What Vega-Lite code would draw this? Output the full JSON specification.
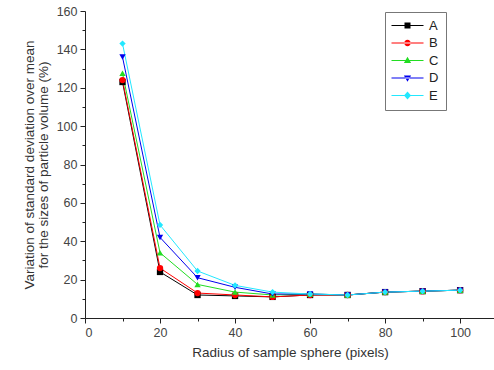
{
  "$schema": "https://vega.github.io/schema/vega-lite/v6.json",
  "width": 410,
  "height": 307,
  "autosize": "none",
  "padding": {"left": 85, "top": 11, "right": 0, "bottom": 52},
  "background": "white",
  "config": {
    "view": {"stroke": null},
    "font": "Liberation Sans",
    "axis": {"domainColor": "#222", "tickColor": "#222", "labelColor": "#444", "titleColor": "#333", "labelFont": "Liberation Sans", "titleFont": "Liberation Sans", "labelFontSize": 12.5, "titleFontSize": 13.5, "titleFontWeight": "normal", "grid": false}
  },
  "data": {"values": [
    {"r": 10, "s": "A", "v": 123}, {"r": 20, "s": "A", "v": 24}, {"r": 30, "s": "A", "v": 12}, {"r": 40, "s": "A", "v": 11.5}, {"r": 50, "s": "A", "v": 11}, {"r": 60, "s": "A", "v": 12}, {"r": 70, "s": "A", "v": 12}, {"r": 80, "s": "A", "v": 13.5}, {"r": 90, "s": "A", "v": 14}, {"r": 100, "s": "A", "v": 14.5},
    {"r": 10, "s": "B", "v": 124}, {"r": 20, "s": "B", "v": 26}, {"r": 30, "s": "B", "v": 13}, {"r": 40, "s": "B", "v": 12}, {"r": 50, "s": "B", "v": 11}, {"r": 60, "s": "B", "v": 12}, {"r": 70, "s": "B", "v": 12}, {"r": 80, "s": "B", "v": 13.5}, {"r": 90, "s": "B", "v": 14}, {"r": 100, "s": "B", "v": 14.5},
    {"r": 10, "s": "C", "v": 127.5}, {"r": 20, "s": "C", "v": 34}, {"r": 30, "s": "C", "v": 17.5}, {"r": 40, "s": "C", "v": 13.5}, {"r": 50, "s": "C", "v": 12}, {"r": 60, "s": "C", "v": 12.5}, {"r": 70, "s": "C", "v": 12}, {"r": 80, "s": "C", "v": 13.5}, {"r": 90, "s": "C", "v": 14}, {"r": 100, "s": "C", "v": 14.5},
    {"r": 10, "s": "D", "v": 136}, {"r": 20, "s": "D", "v": 42}, {"r": 30, "s": "D", "v": 21}, {"r": 40, "s": "D", "v": 16}, {"r": 50, "s": "D", "v": 12.5}, {"r": 60, "s": "D", "v": 12.5}, {"r": 70, "s": "D", "v": 12}, {"r": 80, "s": "D", "v": 13.5}, {"r": 90, "s": "D", "v": 14}, {"r": 100, "s": "D", "v": 14.5},
    {"r": 10, "s": "E", "v": 143}, {"r": 20, "s": "E", "v": 48.5}, {"r": 30, "s": "E", "v": 24.5}, {"r": 40, "s": "E", "v": 17}, {"r": 50, "s": "E", "v": 13.5}, {"r": 60, "s": "E", "v": 12.5}, {"r": 70, "s": "E", "v": 12}, {"r": 80, "s": "E", "v": 13.5}, {"r": 90, "s": "E", "v": 14}, {"r": 100, "s": "E", "v": 14.5}
  ]},
  "encoding": {
    "x": {"field": "r", "type": "quantitative",
      "scale": {"domain": [0, 109.3], "nice": false, "zero": false},
      "axis": {"title": "Radius of sample sphere (pixels)", "values": [0, 10, 20, 30, 40, 50, 60, 70, 80, 90, 100],
        "labelExpr": "datum.value % 20 === 0 ? datum.label : ''",
        "tickSize": {"condition": {"test": "datum.value % 20 === 0", "value": 5}, "value": 3},
        "titlePadding": 7, "labelPadding": 3}},
    "y": {"field": "v", "type": "quantitative",
      "scale": {"domain": [0, 160], "nice": false},
      "axis": {"title": ["Variation of standard deviation over mean", "for the sizes of particle volume (%)"],
        "values": [0, 10, 20, 30, 40, 50, 60, 70, 80, 90, 100, 110, 120, 130, 140, 150, 160],
        "labelExpr": "datum.value % 20 === 0 ? datum.label : ''",
        "tickSize": {"condition": {"test": "datum.value % 20 === 0", "value": 5}, "value": 3},
        "titlePadding": 6, "titleLineHeight": 14, "labelPadding": 3}}
  },
  "resolve": {"scale": {"color": "independent", "shape": "independent"}},
  "layer": [
    {"mark": {"type": "line", "strokeWidth": 1},
      "encoding": {"color": {"field": "s", "type": "nominal", "legend": null,
        "scale": {"domain": ["A", "B", "C", "D", "E"], "range": ["#000000", "#ff0000", "#22dd22", "#0000ee", "#22e8ff"]}}}},
    {"mark": {"type": "point", "filled": true, "size": 40, "opacity": 1},
      "encoding": {"color": {"field": "s", "type": "nominal", "legend": null,
        "scale": {"domain": ["A", "B", "C", "D", "E"], "range": ["#000000", "#ff0000", "#22dd22", "#0000ee", "#22e8ff"]}},
        "shape": {"field": "s", "type": "nominal", "legend": null,
        "scale": {"domain": ["A", "B", "C", "D", "E"], "range": ["square", "circle", "triangle-up", "triangle-down", "diamond"]}}}},
    {"transform": [{"filter": "datum.r > 1000"}],
      "mark": {"type": "point", "filled": true, "size": 100, "opacity": 1},
      "encoding": {"color": {"field": "s", "type": "nominal",
        "scale": {"domain": ["A", "B", "C", "D", "E"], "range": ["#000000", "#ff0000", "#22dd22", "#0000ee", "#22e8ff"]},
        "legend": {"title": null, "orient": "none", "legendX": 300, "legendY": 1, "strokeColor": "#777", "padding": 7, "labelFontSize": 13, "labelColor": "#222", "symbolSize": 100, "rowPadding": 3.5, "symbolOffset": 9, "labelOffset": 15, "symbolOpacity": 1, "symbolStrokeWidth": 0}},
        "shape": {"field": "s", "type": "nominal",
        "scale": {"domain": ["A", "B", "C", "D", "E"], "range": [
          "M-3.2,-0.1H3.2V0.1H-3.2ZM-0.6,-0.6H0.6V0.6H-0.6Z",
          "M-3.2,-0.1H3.2V0.1H-3.2ZM-0.65,0A0.65,0.65,0,1,0,0.65,0A0.65,0.65,0,1,0,-0.65,0Z",
          "M-3.2,-0.1H3.2V0.1H-3.2ZM0,-0.75L0.72,0.5H-0.72Z",
          "M-3.2,-0.1H3.2V0.1H-3.2ZM0,0.75L0.72,-0.5H-0.72Z",
          "M-3.2,-0.1H3.2V0.1H-3.2ZM0,-0.8L0.7,0L0,0.8L-0.7,0Z"]}}}}
  ]
}
